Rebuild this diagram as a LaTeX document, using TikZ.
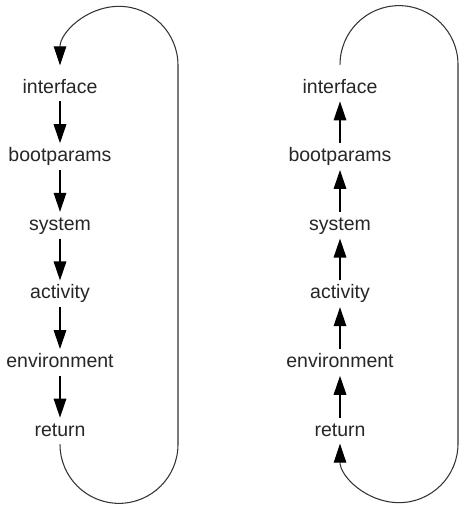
\documentclass[tikz,border=0pt]{standalone}
\usepackage{fontspec}
\setmainfont{Liberation Sans}
\usetikzlibrary{arrows.meta}

\tikzset{
  stage/.style={inner sep=0pt, minimum height=0.52cm, text height=8pt, text depth=2.3pt,
    font=\fontsize{11.1}{13}\selectfont, text=black!85},
  flow/.style={line width=0.9pt},
  cycleline/.style={line width=0.6pt, draw=black!80}
}

\begin{document}
\begin{tikzpicture}[>={Triangle[length=0.38cm,width=0.25cm,color=black]}]
  \useasboundingbox (0,0) rectangle (9.4,-10.2);

  % left column, walked downwards
  \node[stage] (itf1) at (1.2,-1.76) {interface};
  \node[stage] (bp1) at (1.2,-3.132) {bootparams}
  edge[<-,flow] (itf1);
  \node[stage] (sys1) at (1.2,-4.504) {system}
  edge[<-,flow] (bp1);
  \node[stage] (act1) at (1.2,-5.876) {activity}
  edge[<-,flow] (sys1);
  \node[stage] (env1) at (1.2,-7.248) {environment}
  edge[<-,flow] (act1);
  \node[stage] (ret1) at (1.2,-8.62) {return}
  edge[<-,flow] (env1);

  \draw[cycleline,->] (ret1.south) arc[start angle=180,end angle=360,radius=1.18]
    -- ++(0,7.58) arc[start angle=0,end angle=180,radius=1.18];

  % right column, walked upwards
  \node[stage] (itf2) at (6.8,-1.76) {interface};
  \node[stage] (bp2) at (6.8,-3.132) {bootparams}
  edge[->,flow] (itf2);
  \node[stage] (sys2) at (6.8,-4.504) {system}
  edge[->,flow] (bp2);
  \node[stage] (act2) at (6.8,-5.876) {activity}
  edge[->,flow] (sys2);
  \node[stage] (env2) at (6.8,-7.248) {environment}
  edge[->,flow] (act2);
  \node[stage] (ret2) at (6.8,-8.62) {return}
  edge[->,flow] (env2);

  \coordinate (top2) at ([yshift=0.2cm]itf2.north);
  \draw[cycleline,->] (top2) arc[start angle=180,end angle=0,radius=1.18]
    -- ++(0,-7.58) arc[start angle=0,end angle=-180,radius=1.18];
\end{tikzpicture}
\end{document}
